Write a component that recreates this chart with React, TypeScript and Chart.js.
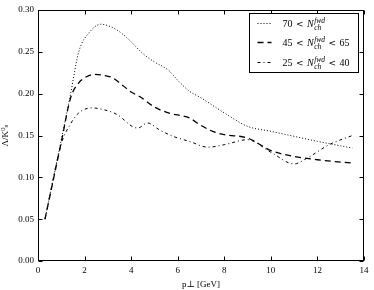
import React, { useEffect, useRef } from "react";
import { Chart, registerables } from "chart.js";

Chart.register(...registerables);

// p_T values (GeV) and Lambda/K0s ratios for each multiplicity class
const xHigh = [0.3, 1.0, 1.4, 1.75, 2.2, 2.7, 3.2, 3.6, 4.0, 4.5, 5.0, 5.6, 6.0, 6.5, 7.0, 8.0, 9.0, 10.0, 11.0, 12.0, 13.5];
const yHigh = [0.05, 0.145, 0.2, 0.25, 0.273, 0.283, 0.279, 0.272, 0.262, 0.248, 0.238, 0.228, 0.216, 0.203, 0.195, 0.177, 0.161, 0.155, 0.149, 0.143, 0.135];

const xMid = [0.3, 1.0, 1.4, 1.75, 2.0, 2.4, 2.8, 3.2, 3.5, 4.0, 4.4, 5.0, 5.6, 6.5, 7.0, 7.5, 8.0, 9.0, 10.0, 11.0, 12.0, 13.5];
const yMid = [0.05, 0.142, 0.195, 0.213, 0.219, 0.223, 0.222, 0.219, 0.213, 0.202, 0.196, 0.184, 0.177, 0.171, 0.162, 0.155, 0.151, 0.147, 0.132, 0.125, 0.121, 0.117];

const xLow = [0.3, 1.0, 1.4, 1.75, 2.3, 2.8, 3.4, 4.1, 4.3, 4.7, 5.2, 5.8, 6.5, 7.3, 8.0, 9.0, 10.0, 11.0, 11.5, 12.5, 13.5];
const yLow = [0.05, 0.14, 0.164, 0.177, 0.183, 0.181, 0.175, 0.16, 0.159, 0.165, 0.157, 0.149, 0.143, 0.136, 0.139, 0.145, 0.13, 0.116, 0.122, 0.139, 0.15];

const legendLow = ["70", "45", "25"];
const legendHigh = ["", "65", "40"];

const xMin = 0, xMax = 14, xStep = 2;
const yMin = 0, yMax = 0.3, yStep = 0.05;

const FONT = "'Liberation Serif', 'DejaVu Serif', serif";
const SYM = "'DejaVu Sans', sans-serif";

const toPts = (xs: number[], ys: number[]) => xs.map((x, i) => ({ x, y: ys[i] }));

const framePlugin = {
  id: "frameTicksLegend",
  afterDatasetsDraw(chart: any) {
    const { ctx, chartArea: a, scales } = chart;
    ctx.save();
    ctx.strokeStyle = "#000";
    ctx.lineWidth = 1;
    const L = Math.round(a.left) + 0.5, R = Math.round(a.right) - 0.5;
    const T = Math.round(a.top) + 0.5, B = Math.round(a.bottom) - 0.5;
    ctx.strokeRect(L, T, R - L, B - T);
    ctx.beginPath();
    for (const t of scales.x.ticks) {
      const px = Math.round(scales.x.getPixelForValue(t.value)) + 0.5;
      ctx.moveTo(px, B); ctx.lineTo(px, B - 4);
      ctx.moveTo(px, T); ctx.lineTo(px, T + 4);
    }
    for (const t of scales.y.ticks) {
      const py = Math.round(scales.y.getPixelForValue(t.value)) + 0.5;
      ctx.moveTo(L, py); ctx.lineTo(L + 4, py);
      ctx.moveTo(R, py); ctx.lineTo(R - 4, py);
    }
    ctx.stroke();

    // legend
    const w = 109, h = 59;
    const x0 = Math.round(a.right - 6 - w) + 0.5;
    const y0 = Math.round(a.top + 3) + 0.5;
    ctx.fillStyle = "#fff";
    ctx.fillRect(x0, y0, w, h);
    ctx.strokeRect(x0, y0, w, h);
    const dsets = chart.data.datasets;
    const gap = 3.5;
    for (let i = 0; i < dsets.length; i++) {
      const ds = dsets[i];
      const cy = Math.round(y0 + 9 + i * 19.5) + 0.5;
      ctx.save();
      ctx.strokeStyle = ds.borderColor;
      ctx.lineWidth = ds.borderWidth;
      ctx.setLineDash(ds.borderDash || []);
      ctx.beginPath();
      ctx.moveTo(x0 + 8, cy);
      ctx.lineTo(x0 + 22, cy);
      ctx.stroke();
      ctx.restore();
      ctx.fillStyle = "#000";
      ctx.textBaseline = "alphabetic";
      let tx = x0 + 33;
      const base = cy + 3.5;
      ctx.font = `10px ${FONT}`;
      ctx.fillText(legendLow[i], tx, base);
      tx += ctx.measureText(legendLow[i]).width + gap;
      ctx.font = `9px ${SYM}`;
      ctx.fillText("<", tx, base);
      tx += ctx.measureText("<").width + gap;
      ctx.font = `italic 10px ${FONT}`;
      ctx.fillText("N", tx, base);
      tx += ctx.measureText("N").width + 0.5;
      ctx.font = `italic 7.5px ${FONT}`;
      ctx.fillText("fwd", tx, base - 4.5);
      const w1 = ctx.measureText("fwd").width;
      ctx.fillText("ch", tx, base + 2.5);
      const w2 = ctx.measureText("ch").width;
      tx += Math.max(w1, w2);
      if (legendHigh[i]) {
        tx += gap;
        ctx.font = `9px ${SYM}`;
        ctx.fillText("<", tx, base);
        tx += ctx.measureText("<").width + gap;
        ctx.font = `10px ${FONT}`;
        ctx.fillText(legendHigh[i], tx, base);
      }
    }
    ctx.restore();
  },
};

export default function App() {
  const ref = useRef<HTMLCanvasElement | null>(null);
  useEffect(() => {
    if (!ref.current) return;
    Chart.defaults.font.family = FONT;
    Chart.defaults.font.size = 9;
    Chart.defaults.color = "#000";
    const chart = new Chart(ref.current, {
      type: "line",
      data: {
        datasets: [
          {
            label: "70 < N_ch^fwd",
            data: toPts(xHigh, yHigh),
            borderColor: "#000",
            borderWidth: 1,
            borderDash: [1, 2],
            pointRadius: 0,
            cubicInterpolationMode: "monotone",
            fill: false,
          },
          {
            label: "45 < N_ch^fwd < 65",
            data: toPts(xMid, yMid),
            borderColor: "#000",
            borderWidth: 1.3,
            borderDash: [6, 4],
            pointRadius: 0,
            cubicInterpolationMode: "monotone",
            fill: false,
          },
          {
            label: "25 < N_ch^fwd < 40",
            data: toPts(xLow, yLow),
            borderColor: "#000",
            borderWidth: 1,
            borderDash: [3, 3, 1, 3],
            pointRadius: 0,
            cubicInterpolationMode: "monotone",
            fill: false,
          },
        ],
      },
      plugins: [framePlugin],
      options: {
        animation: false,
        responsive: false,
        maintainAspectRatio: false,
        layout: { padding: { top: 10, right: 10, left: 0, bottom: 0 } },
        plugins: { legend: { display: false }, tooltip: { enabled: false } },
        scales: {
          x: {
            type: "linear",
            min: xMin,
            max: xMax,
            grid: { display: false, drawTicks: false },
            border: { display: false },
            ticks: { stepSize: xStep, padding: 4, maxRotation: 0, font: { size: 9 } },
            title: { display: true, text: "p⊥ [GeV]", padding: { top: 1, bottom: 0 }, font: { size: 9 } },
            afterFit: (s: any) => { s.height = 29; },
          },
          y: {
            type: "linear",
            min: yMin,
            max: yMax,
            grid: { display: false, drawTicks: false },
            border: { display: false },
            ticks: { stepSize: yStep, padding: 4, font: { size: 9 }, callback: (v: any) => Number(v).toFixed(2) },
            title: { display: true, text: "Λ/K⁰ₛ", padding: { top: 0, bottom: 2 }, font: { size: 9 } },
            afterFit: (s: any) => { s.width = 38; },
          },
        },
      },
    });
    return () => chart.destroy();
  }, []);
  return (
    <div style={{ position: "fixed", left: 0, top: 0, width: 374, height: 290, background: "#fff" }}>
      <canvas ref={ref} width={374} height={290} style={{ width: 374, height: 290 }} />
    </div>
  );
}
